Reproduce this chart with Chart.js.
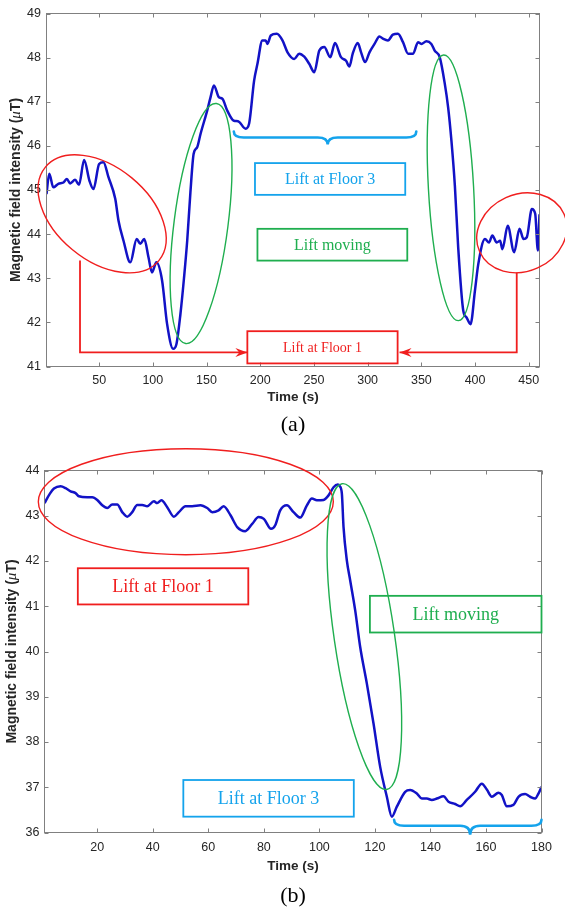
<!DOCTYPE html>
<html>
<head>
<meta charset="utf-8">
<script src="https://cdn.jsdelivr.net/npm/chart.js@4.4.1/dist/chart.umd.min.js"></script>
<style>
  body { margin: 0; background: #fff; }
  .wrap { position: absolute; left: 0; width: 565px; }
  #wrapA { top: 0; height: 440px; }
  #wrapB { top: 440px; height: 470px; }
</style>
</head>
<body>
<div class="wrap" id="wrapA"><canvas id="chartA"></canvas></div>
<div class="wrap" id="wrapB"><canvas id="chartB"></canvas></div>
<script>
// (a) full ride: floor 1 -> floor 3 -> floor 1
const timeA = [1, 3.6, 7.3, 12, 16.8, 20, 23, 27.6, 31.3, 36, 41, 44.7, 50, 54, 58.7, 65, 68, 72.7, 79, 85,
  88.3, 92, 96, 99.2, 103.3, 108.6, 113.3, 118.9, 122, 125.7, 129, 132, 135, 138, 141.3, 144.4, 150.6, 153.7,
  156.9, 161.5, 164.7, 169.3, 175.5, 179.3, 186.4, 189.6, 194.3, 197.4, 202, 205.1, 206.7, 209.8, 215.4, 220.7,
  225.4, 231.6, 236.3, 241, 245.6, 250.3, 255, 259.6, 265.2, 269.6, 275.2, 279.9, 283, 286.1, 290.8, 293.9,
  297.6, 301.7, 306.4, 311, 314.2, 318.9, 323.5, 328.2, 332.9, 337.6, 342.3, 346.9, 350, 354.7, 359.3, 362.4,
  367.1, 371.8, 374.9, 378, 381.2, 384.3, 389, 392.1, 395.8, 399.9, 403, 409.2, 413, 416.1, 420.2, 423.3,
  425.5, 430.4, 436.4, 441.4, 445.1, 448.2, 452.9, 456, 458.5, 460];
const fieldA = [44.91, 45.37, 45.06, 45.14, 45.17, 45.25, 45.15, 45.23, 45.12, 45.68, 45.21, 45.02, 45.59, 45.63,
  45.29, 44.80, 44.31, 43.85, 43.36, 43.89, 43.78, 43.89, 43.47, 43.13, 43.36, 42.95, 41.96, 41.40, 41.51, 42.19,
  43.0, 43.85, 44.95, 45.82, 45.97, 46.27, 46.80, 47.10, 47.37, 47.10, 47.07, 46.80, 46.57, 46.56, 46.39, 46.50,
  47.48, 47.86, 48.39, 48.39, 48.31, 48.50, 48.54, 48.39, 48.12, 47.97, 48.09, 48.02, 47.86, 47.67, 48.16, 48.24,
  48.01, 48.33, 48.01, 47.93, 47.80, 48.09, 48.33, 48.12, 47.90, 48.12, 48.31, 48.48, 48.43, 48.39, 48.52, 48.54,
  48.35, 48.09, 48.09, 48.35, 48.31, 48.37, 48.31, 48.16, 48.01, 47.41, 46.88, 46.12, 45.10, 43.70, 42.27, 42.11,
  41.96, 42.72, 43.32, 43.89, 43.81, 43.97, 43.81, 43.85, 43.66, 44.19, 43.59, 44.12, 43.89, 43.93, 44.57, 44.46,
  43.63, 44.45];
const xTicksA = [50, 100, 150, 200, 250, 300, 350, 400, 450];
const yTicksA = [41, 42, 43, 44, 45, 46, 47, 48, 49];

// (b) single ride: floor 1 -> floor 3
const timeB = [1, 2.95, 4.4, 6.8, 8.6, 10.4, 12.2, 13.4, 16.4, 18.2, 20, 21.8, 23.6, 25.4, 27.2, 29, 30.8, 32.6,
  34.4, 36.2, 38, 40.4, 41.6, 43.1, 45.2, 47.6, 49.4, 51.8, 54.2, 57.2, 59.6, 61.4, 63.7, 65.5, 68, 70.4, 73.3,
  75.8, 78.1, 80, 82.6, 84.1, 85.9, 88.3, 90.7, 93.1, 95.5, 97.3, 99.1, 101.5, 103.3, 105.1, 106.6, 107.3, 108.1,
  108.7, 109.9, 111.1, 112.9, 114.7, 117.1, 119.5, 121.9, 124.3, 126.1, 127.9, 130.9, 132.7, 135.1, 136.9, 138.7,
  140.5, 142.3, 144.7, 146.5, 148.9, 150.7, 153.1, 156.1, 158.5, 160.3, 162.1, 164.5, 165.7, 167.5, 169.9, 171.7,
  174.1, 175.9, 177.7, 178.9, 180];
const fieldB = [43.28, 43.49, 43.60, 43.65, 43.61, 43.54, 43.50, 43.43, 43.41, 43.41, 43.35, 43.23, 43.17, 43.25,
  43.25, 43.08, 42.98, 43.08, 43.24, 43.24, 43.21, 43.32, 43.28, 43.34, 43.19, 42.98, 43.08, 43.21, 43.21, 43.23,
  43.17, 43.08, 43.12, 43.21, 43.01, 42.75, 42.66, 42.82, 42.97, 42.93, 42.71, 42.79, 43.12, 43.23, 43.08, 42.96,
  43.23, 43.38, 43.34, 43.35, 43.45, 43.63, 43.69, 43.66, 43.49, 42.75, 42.01, 41.57, 40.91, 40.10, 39.29, 38.41,
  37.45, 36.79, 36.35, 36.57, 36.90, 36.94, 36.86, 36.75, 36.75, 36.72, 36.75, 36.80, 36.68, 36.63, 36.58, 36.72,
  36.90, 37.08, 36.95, 36.79, 36.88, 36.83, 36.58, 36.61, 36.79, 36.85, 36.79, 36.75, 36.86, 37.01];
const xTicksB = [20, 40, 60, 80, 100, 120, 140, 160, 180];
const yTicksB = [36, 37, 38, 39, 40, 41, 42, 43, 44];

const LINE_BLUE = '#1212c6';
const RED = '#f01e1e';
const GREEN = '#1fae4f';
const CYAN = '#14a3ec';
const AXIS_COLOR = '#808080';
const TEXT_COLOR = '#262626';
const SANS = '"Liberation Sans", Arial, sans-serif';
const SERIF = '"Liberation Serif", "Times New Roman", serif';
const TICK_LEN = 4;

// callouts, positioned in data units (sizes of ellipses in px)
const notesA = [
  { type: 'ellipse', color: RED, x: 52.8, y: 44.46, rx: 73.5, ry: 46.6, rot: 39.5 },
  { type: 'ellipse', color: GREEN, x: 144.9, y: 44.24, rx: 121, ry: 27, rot: -82.7 },
  { type: 'ellipse', color: GREEN, x: 377.6, y: 45.05, rx: 133, ry: 22.6, rot: -93.2 },
  { type: 'ellipse', color: RED, x: 443.5, y: 44.03, rx: 46.2, ry: 38.6, rot: -24.3 },
  { type: 'brace', color: CYAN, x0: 175.4, x1: 345.3, xm: 262.8, y: 46.19, h: 6, d: 7 },
  { type: 'box', color: CYAN, x0: 195.1, x1: 335, y0: 45.61, y1: 44.89, text: 'Lift at Floor 3', size: 16 },
  { type: 'box', color: GREEN, x0: 197.4, x1: 336.9, y0: 44.12, y1: 43.40, text: 'Lift moving', size: 16 },
  { type: 'box', color: RED, x0: 188, x1: 327.9, y0: 41.80, y1: 41.07, text: 'Lift at Floor 1', size: 14 },
  { type: 'arrow', color: RED, pts: [[32.2, 43.40], [32.2, 41.32], [188, 41.32]] },
  { type: 'arrow', color: RED, pts: [[438.8, 43.13], [438.8, 41.32], [329.7, 41.32]] }
];

const notesB = [
  { type: 'ellipse', color: RED, x: 51.9, y: 43.31, rx: 147.5, ry: 53, rot: 0 },
  { type: 'ellipse', color: GREEN, x: 116.2, y: 40.33, rx: 154.5, ry: 30.2, rot: -98.3 },
  { type: 'box', color: RED, x0: 13.0, x1: 74.4, y0: 41.84, y1: 41.04, text: 'Lift at Floor 1', size: 18 },
  { type: 'box', color: GREEN, x0: 118.2, x1: 180, y0: 41.23, y1: 40.42, text: 'Lift moving', size: 18 },
  { type: 'box', color: CYAN, x0: 51, x1: 112.4, y0: 37.16, y1: 36.35, text: 'Lift at Floor 3', size: 18 },
  { type: 'brace', color: CYAN, x0: 126.9, x1: 180, xm: 154.3, y: 36.15, h: 6, d: 9 }
];

function drawArrowHead(ctx, x, y, ang) {
  ctx.save();
  ctx.translate(x, y);
  ctx.rotate(ang);
  ctx.beginPath();
  ctx.moveTo(0, 0);
  ctx.lineTo(-12, -4.5);
  ctx.lineTo(-8, 0);
  ctx.lineTo(-12, 4.5);
  ctx.closePath();
  ctx.fill();
  ctx.restore();
}

function drawBrace(ctx, x0, x1, xm, y, h, d) {
  const r = 10;
  ctx.beginPath();
  ctx.moveTo(x0, y - h);
  ctx.quadraticCurveTo(x0, y, x0 + r, y);
  ctx.lineTo(xm - r, y);
  ctx.quadraticCurveTo(xm, y, xm, y + d);
  ctx.quadraticCurveTo(xm, y, xm + r, y);
  ctx.lineTo(x1 - r, y);
  ctx.quadraticCurveTo(x1, y, x1, y - h);
  ctx.stroke();
}

// MATLAB-style box with inward ticks, axis titles, caption and callouts
const figureDecor = {
  id: 'figureDecor',
  afterDraw(chart, args, opts) {
    const ctx = chart.ctx;
    const { left, right, top, bottom } = chart.chartArea;
    const xs = chart.scales.x;
    const ys = chart.scales.y;
    ctx.save();

    ctx.strokeStyle = AXIS_COLOR;
    ctx.lineWidth = 1;
    ctx.strokeRect(left, top, right - left, bottom - top);
    ctx.beginPath();
    xs.ticks.forEach(t => {
      const px = Math.round(xs.getPixelForValue(t.value)) + 0.5;
      ctx.moveTo(px, bottom); ctx.lineTo(px, bottom - TICK_LEN);
      ctx.moveTo(px, top); ctx.lineTo(px, top + TICK_LEN);
    });
    ys.ticks.forEach(t => {
      const py = Math.round(ys.getPixelForValue(t.value)) + 0.5;
      ctx.moveTo(left, py); ctx.lineTo(left + TICK_LEN, py);
      ctx.moveTo(right, py); ctx.lineTo(right - TICK_LEN, py);
    });
    ctx.stroke();

    // x title
    ctx.fillStyle = TEXT_COLOR;
    ctx.textAlign = 'center';
    ctx.textBaseline = 'middle';
    ctx.font = 'bold 13.5px ' + SANS;
    ctx.fillText('Time (s)', (left + right) / 2, bottom + opts.xTitleGap);

    // y title with italic mu
    const parts = [
      ['Magnetic field intensity (', 'bold 14px ' + SANS],
      ['\u03bc', 'italic 15px ' + SERIF],
      ['T)', 'bold 14px ' + SANS]
    ];
    let total = 0;
    parts.forEach(p => { ctx.font = p[1]; total += ctx.measureText(p[0]).width; });
    ctx.save();
    ctx.translate(opts.yTitleX, (top + bottom) / 2);
    ctx.rotate(-Math.PI / 2);
    ctx.textAlign = 'left';
    let cx = -total / 2;
    parts.forEach(p => {
      ctx.font = p[1];
      ctx.fillText(p[0], cx, 0);
      cx += ctx.measureText(p[0]).width;
    });
    ctx.restore();

    // caption
    ctx.fillStyle = '#000';
    ctx.font = '22px ' + SERIF;
    ctx.textAlign = 'center';
    ctx.fillText(opts.caption, (left + right) / 2, bottom + opts.captionGap);

    // callouts
    opts.notes.forEach(n => {
      ctx.strokeStyle = n.color;
      ctx.fillStyle = n.color;
      if (n.type === 'ellipse') {
        ctx.lineWidth = 1.4;
        ctx.beginPath();
        ctx.ellipse(xs.getPixelForValue(n.x), ys.getPixelForValue(n.y), n.rx, n.ry,
          n.rot * Math.PI / 180, 0, 2 * Math.PI);
        ctx.stroke();
      } else if (n.type === 'box') {
        const x0 = xs.getPixelForValue(n.x0), x1 = xs.getPixelForValue(n.x1);
        const y0 = ys.getPixelForValue(n.y0), y1 = ys.getPixelForValue(n.y1);
        ctx.lineWidth = 1.8;
        ctx.strokeRect(x0, y0, x1 - x0, y1 - y0);
        ctx.font = n.size + 'px ' + SERIF;
        ctx.textAlign = 'center';
        ctx.textBaseline = 'middle';
        ctx.fillText(n.text, (x0 + x1) / 2, (y0 + y1) / 2 + 1);
      } else if (n.type === 'brace') {
        ctx.lineWidth = 2.6;
        ctx.lineCap = 'round';
        drawBrace(ctx, xs.getPixelForValue(n.x0), xs.getPixelForValue(n.x1), xs.getPixelForValue(n.xm),
          ys.getPixelForValue(n.y), n.h, n.d);
      } else if (n.type === 'arrow') {
        const pts = n.pts.map(p => [xs.getPixelForValue(p[0]), ys.getPixelForValue(p[1])]);
        ctx.lineWidth = 1.8;
        ctx.lineCap = 'butt';
        ctx.beginPath();
        pts.forEach((p, i) => i ? ctx.lineTo(p[0], p[1]) : ctx.moveTo(p[0], p[1]));
        const a = pts[pts.length - 2], b = pts[pts.length - 1];
        const ang = Math.atan2(b[1] - a[1], b[0] - a[0]);
        ctx.lineTo(b[0] - 8 * Math.cos(ang), b[1] - 8 * Math.sin(ang));
        ctx.stroke();
        drawArrowHead(ctx, b[0], b[1], ang);
      }
    });
    ctx.restore();
  }
};

function makeChart(id, time, field, xTicks, yTicks, xMax, yMin, yMax, frame) {
  const points = time.map((t, i) => ({ x: t, y: field[i] }));
  return new Chart(document.getElementById(id), {
    type: 'line',
    data: {
      datasets: [{
        data: points,
        borderColor: LINE_BLUE,
        borderWidth: 2.5,
        pointRadius: 0,
        cubicInterpolationMode: 'monotone',
        fill: false
      }]
    },
    options: {
      responsive: true,
      maintainAspectRatio: false,
      animation: false,
      devicePixelRatio: 1,
      layout: { padding: frame.padding },
      plugins: {
        legend: { display: false },
        tooltip: { enabled: false },
        figureDecor: frame
      },
      scales: {
        x: {
          type: 'linear',
          min: 1,
          max: xMax,
          grid: { display: false, drawTicks: false },
          border: { display: false },
          afterBuildTicks: axis => { axis.ticks = xTicks.map(v => ({ value: v })); },
          afterFit: axis => { axis.height = 30; },
          ticks: { color: TEXT_COLOR, font: { family: SANS, size: 12.5 }, padding: frame.xPad, maxRotation: 0 }
        },
        y: {
          min: yMin,
          max: yMax,
          grid: { display: false, drawTicks: false },
          border: { display: false },
          afterBuildTicks: axis => { axis.ticks = yTicks.map(v => ({ value: v })); },
          afterFit: axis => { axis.width = frame.yWidth; },
          ticks: { color: TEXT_COLOR, font: { family: SANS, size: 12.5 }, padding: frame.yPad }
        }
      }
    },
    plugins: [figureDecor]
  });
}

makeChart('chartA', timeA, fieldA, xTicksA, yTicksA, 460, 41, 49, {
  padding: { left: 0, top: 13.5, right: 25.5, bottom: 43.5 },
  yWidth: 46.5, xPad: 6.5, yPad: 5.5,
  xTitleGap: 31, captionGap: 58.5, yTitleX: 16,
  caption: '(a)', notes: notesA
});

makeChart('chartB', timeB, fieldB, xTicksB, yTicksB, 180, 36, 44, {
  padding: { left: 0, top: 30.5, right: 23.5, bottom: 47.5 },
  yWidth: 44.5, xPad: 7.5, yPad: 5,
  xTitleGap: 34, captionGap: 64, yTitleX: 12.5,
  caption: '(b)', notes: notesB
});
</script>
</body>
</html>
